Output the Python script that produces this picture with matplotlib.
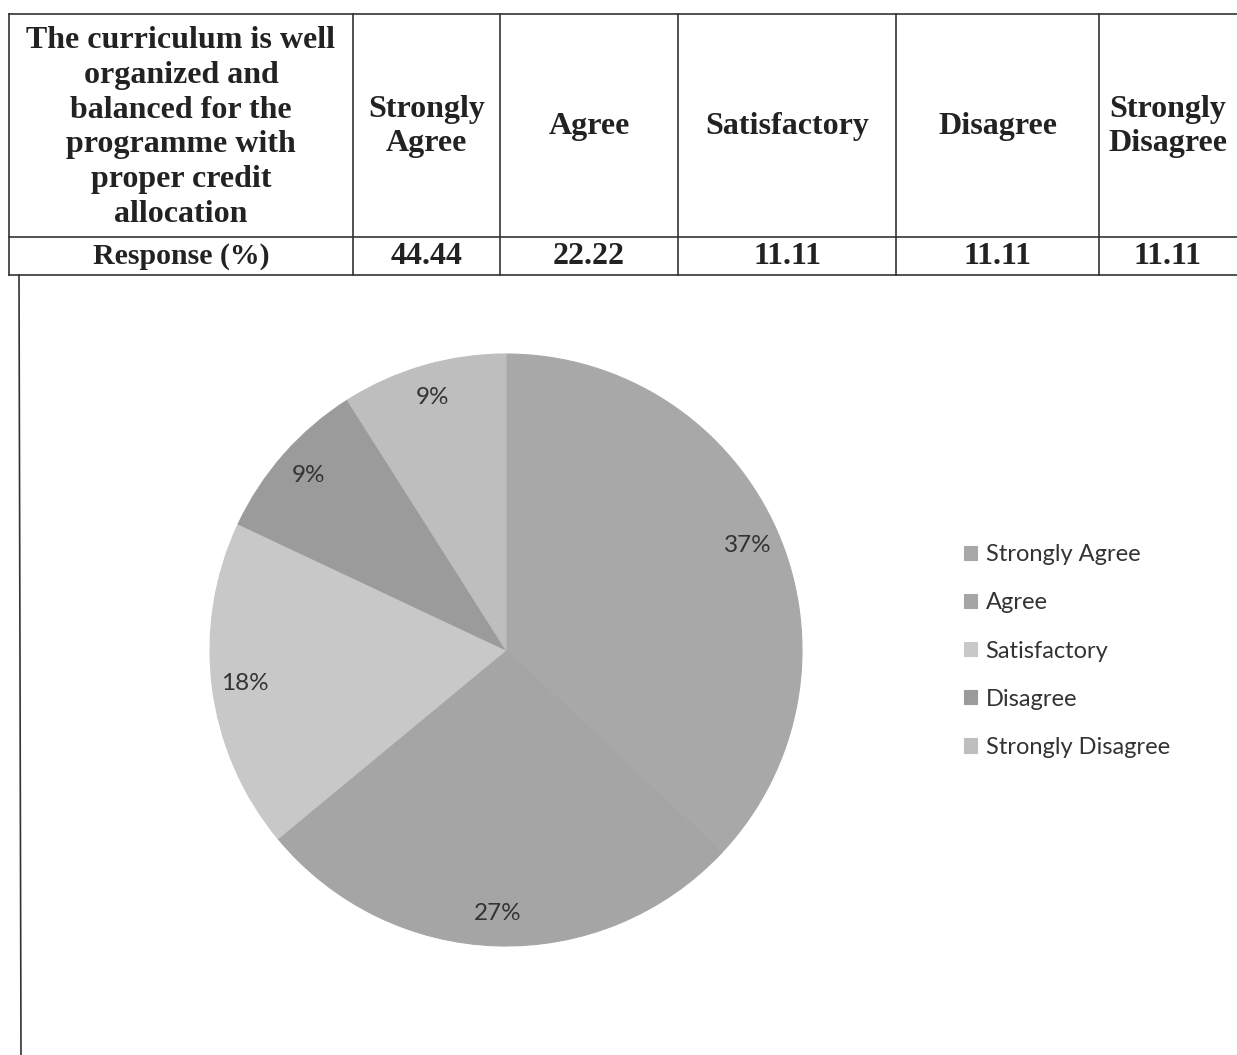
import matplotlib
matplotlib.use("Agg")
import matplotlib.pyplot as plt

# table data
question = "The curriculum is well\norganized and\nbalanced for the\nprogramme with\nproper credit\nallocation"
headers = ["Strongly\nAgree", "Agree", "Satisfactory", "Disagree", "Strongly\nDisagree"]
responses = ["44.44", "22.22", "11.11", "11.11", "11.11"]

# pie data (as shown in the chart)
categories = ["Strongly Agree", "Agree", "Satisfactory", "Disagree", "Strongly Disagree"]
pie_values = [37, 27, 18, 9, 9]
pie_colors = ["#a8a8a8", "#a5a5a5", "#c8c8c8", "#9b9b9b", "#bebebe"]

W, H = 1237, 1055
fig = plt.figure(figsize=(W / 100, H / 100), dpi=100)

# background axes in pixel coordinates for the table
bg = fig.add_axes([0, 0, 1, 1])
bg.set_xlim(0, W)
bg.set_ylim(H, 0)
bg.axis("off")

col_x = [9, 353, 500, 678, 896, 1099, 1237]
row_y = [14, 237, 275]
lc = "#333333"
for y in row_y:
    bg.plot([col_x[0], W], [y, y], color=lc, lw=1.2)
for x in col_x[:-1]:
    bg.plot([x, x], [row_y[0], row_y[2]], color=lc, lw=1.2)
bg.plot([19, 21], [row_y[2], H], color=lc, lw=1.2)

serif = dict(family="Liberation Serif", weight="bold", color="#222222")
bg.text((col_x[0] + col_x[1]) / 2, (row_y[0] + row_y[1]) / 2 + 2, question,
        ha="center", va="center", fontsize=23, linespacing=1.27, **serif)
for i, h in enumerate(headers):
    cx = (col_x[i + 1] + col_x[i + 2]) / 2
    bg.text(cx, (row_y[0] + row_y[1]) / 2 + 1, h, ha="center", va="center",
            fontsize=23, linespacing=1.27, **serif)
bg.text((col_x[0] + col_x[1]) / 2, (row_y[1] + row_y[2]) / 2 + 1, "Response (%)",
        ha="center", va="center", fontsize=21.5, **serif)
for i, r in enumerate(responses):
    cx = (col_x[i + 1] + col_x[i + 2]) / 2
    bg.text(cx, (row_y[1] + row_y[2]) / 2 + 1, r, ha="center", va="center",
            fontsize=23, **serif)

# pie
cx, cy, R = 506, 650, 296
ax = fig.add_axes([(cx - R) / W, (H - cy - R) / H, 2 * R / W, 2 * R / H])
wedges, texts, autotexts = ax.pie(pie_values, colors=pie_colors, startangle=90,
                                  counterclock=False, autopct="%.0f%%",
                                  pctdistance=0.89,
                                  wedgeprops=dict(linewidth=0.8),
                                  textprops=dict(family="Lato", fontsize=17.5,
                                                 color="#333333"))
for w in wedges:
    w.set_edgecolor(w.get_facecolor())
ax.set_xlim(-1, 1)
ax.set_ylim(-1, 1)
ax.set_aspect("equal")

fig.legend(wedges, categories, loc="upper left",
           bbox_to_anchor=(943 / W, 1 - 523 / H), frameon=False,
           prop=dict(family="Lato", size=17), handlelength=0.55,
           handleheight=0.55, handletextpad=0.35, labelspacing=1.15,
           labelcolor="#333333")

fig.savefig("out.png", dpi=100)
